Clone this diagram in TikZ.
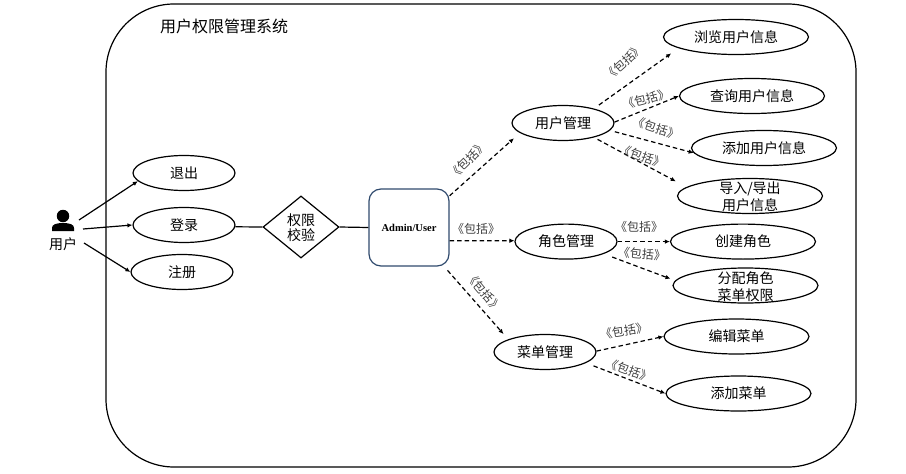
\documentclass[tikz,border=0pt]{standalone}
\usepackage{fontspec}
\usepackage{tikz}
\usetikzlibrary{positioning,arrows.meta,shapes.geometric}
\setmainfont{Noto Sans CJK SC}
\newfontfamily\adminfont{Liberation Serif}
\definecolor{azul}{HTML}{2F4A6D}
\definecolor{gris}{HTML}{3C3C3C}
\newcommand{\dosl}[3][0pt]{\smash{\raisebox{-6pt}{\begin{tabular}{@{}c@{}}#2\\[#1]#3\end{tabular}}}}
\newcommand{\bajo}[1]{\raisebox{-1pt}{#1}}
\tikzset{
  txt/.style={font=\fontsize{14}{17}\selectfont},
  caso/.style={txt,draw,ellipse,line width=1.2pt,inner sep=0pt},
  casoa/.style={caso,minimum width=102pt,minimum height=35pt},
  casob/.style={caso,minimum width=145pt,minimum height=35pt},
  incl/.style={font=\fontsize{12}{14}\selectfont,text=gris,inner sep=0pt},
  flecha/.style={line width=1.2pt,-{Latex[length=5pt,width=4.5pt]}},
  dep/.style={flecha,dash pattern=on 4.5pt off 3pt},
}
\begin{document}
\begin{tikzpicture}[x=1pt,y=-1pt]
        \useasboundingbox (0,0) rectangle (906,474);
        \node[draw,line width=1.2pt,rounded corners=68pt,minimum width=750pt,minimum height=463pt] (sistema) at (481,235.5) {};
        \node[font=\fontsize{16}{19}\selectfont,inner sep=0pt] (titulo) at (224,26) {用户权限管理系统};
        % actor
        \node[circle,fill=black,inner sep=0pt,minimum size=12.5pt] (cabeza) at (63,216) {};
        \fill[black] (52,231) -- (52,228) .. controls (52,224.5) and (56,223) .. (63,223) .. controls (70,223) and (74,224.5) .. (74,228) -- (74,231) -- cycle;
        \node[txt,inner sep=0pt] (usuario) at (63,244) {用户};
        \coordinate (usra) at (79,220);
        \coordinate (usrb) at (83,229);
        \coordinate (usrc) at (84,243);
        % casos de la izquierda
        \foreach \nm/\xx/\yy/\txtb in {salir/184/173/退出,login/184/225/登录,alta/182/272/注册}{
          \node[casoa] (\nm) at (\xx,\yy) {\bajo{\txtb}};
        }
        \node[txt,draw,diamond,line width=1.2pt,inner sep=0pt,minimum width=76pt,minimum height=62pt] (valida) at (301,227) {\dosl[-1.5pt]{权限}{校验}};
        \node[draw=azul,line width=1.2pt,rounded corners=12pt,minimum width=80pt,minimum height=77pt,inner sep=0pt,font=\adminfont\bfseries\fontsize{10.5}{12}\selectfont] (admin) at (409,227.5) {Admin/User};
        % casos de la derecha
        \foreach \nm/\xx/\yy/\txtb in {gusu/563/123/用户管理,grol/566/241.6/角色管理,gmen/545/352/菜单管理}{
          \node[casoa] (\nm) at (\xx,\yy) {\bajo{\txtb}};
        }
        \foreach \nm/\xx/\yy/\txtb in {ver/736/37/浏览用户信息,buscar/752/96/查询用户信息,nuevo/764/148/添加用户信息,io/750/196/{\dosl{导入/导出}{用户信息}},crear/743/241.6/创建角色,asig/745.5/285.5/{\dosl{分配角色}{菜单权限}},editar/736.5/336.5/编辑菜单,addmen/738.5/393.5/添加菜单}{
          \node[casob] (\nm) at (\xx,\yy) {\bajo{\txtb}};
        }
        \draw[flecha] (usra) -- (salir.190);
        \draw[flecha] (usrb) -- (login.west);
        \draw[flecha] (usrc) -- (alta.west);
        \draw[line width=1.2pt] (login.-2) -- (valida.west);
        \draw[line width=1.2pt] (valida.east) -- (admin.west);
        \draw[dep,shorten >=8pt] (admin.38) -- (gusu.193);
        \draw[dep] (admin.-18.5) -- (grol.179);
        \draw[dep,shorten <=5pt,shorten >=7pt] (admin.-48) -- (gmen.161);
        \draw[dep,shorten <=6pt,shorten >=9pt] (gusu.25) -- (ver.191);
        \draw[dep] (gusu.1) -- (buscar.west);
        \draw[dep,shorten <=5pt] (gusu.-9) -- (nuevo.184);
        \draw[dep,shorten <=4pt,shorten >=12pt] (gusu.-25) -- (io.172);
        \draw[dep] (grol.east) -- (crear.west);
        \draw[dep,shorten <=9pt,shorten >=5pt] (grol.-18) -- (asig.176);
        \draw[dep] (gmen.1) -- (editar.west);
        \draw[dep,shorten <=8pt] (gmen.-15) -- (addmen.west);
        % etiquetas
        \foreach \nm/\xx/\yy/\ang in {la/468/160/45,lb/476/229/0,lc/484/292/-50,ld/624/62/42,le/646/99/15,lf/656/128/-18,lg/642/156/-20,lh/639/227/0,li/642/254/-5,lj/624/331/10,lk/629/370/-20}{
          \node[incl,rotate=\ang] (\nm) at (\xx,\yy) {《包括》};
        }
      \end{tikzpicture}
\end{document}
